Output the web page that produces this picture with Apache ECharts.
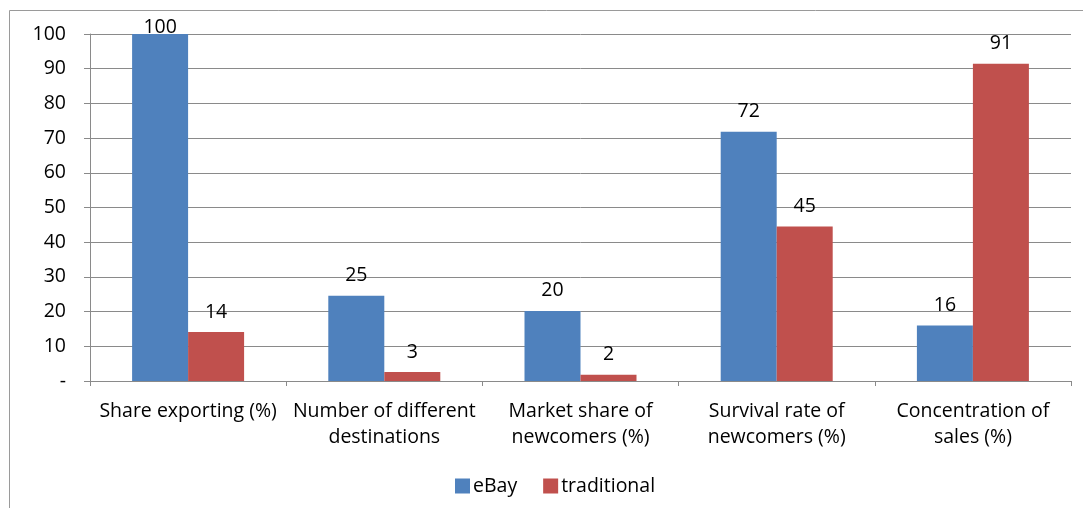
<!DOCTYPE html>
<html><head><meta charset="utf-8">
<script src="https://cdn.jsdelivr.net/npm/echarts@6/dist/echarts.min.js"></script>
<style>html,body{margin:0;padding:0;background:#fff}#c{width:1083px;height:508px}</style>
</head><body><div id="c"></div>
<script>
const categories = ["Share exporting (%)", "Number of different\ndestinations", "Market share of\nnewcomers (%)", "Survival rate of\nnewcomers (%)", "Concentration of\nsales (%)"];
const ebay = [100, 24.6, 20.2, 71.8, 16.0];
const traditional = [14.1, 2.6, 1.8, 44.5, 91.4];
const yTicks = [0, 10, 20, 30, 40, 50, 60, 70, 80, 90, 100];

const FONT = "'Open Sans', 'Liberation Sans', Arial, sans-serif";
const FS = 19.5;
const chart = echarts.init(document.getElementById('c'), null, {renderer: 'canvas'});
function lab(v){ return v >= 100 ? {value: v, label: {distance: -3}} : v; }
const labelStyle = {show: true, position: 'top', distance: 10, fontFamily: FONT, fontSize: FS, color: '#000', formatter: p => Math.round(p.value)};
chart.setOption({
  animation: false,
  textStyle: {fontFamily: FONT, color: '#000'},
  graphic: [{type: 'rect', shape: {x: 9.5, y: 10.5, width: 1100, height: 600}, style: {fill: 'none', stroke: '#9a9a9a', lineWidth: 1}, silent: true}],
  grid: {left: 90, right: 12, top: 34, bottom: 127, containLabel: false},
  legend: {top: 471, left: 450, itemWidth: 15, itemHeight: 15, itemGap: 26,
    textStyle: {fontFamily: FONT, fontSize: FS, color: '#000', padding: [0, 0, 0, -2]},
    data: [{name: 'eBay', icon: 'rect'}, {name: 'traditional', icon: 'rect'}]},
  xAxis: {type: 'category', data: categories,
    axisLine: {lineStyle: {color: '#8a8a8a', width: 1}},
    axisTick: {show: true, length: 5, lineStyle: {color: '#8a8a8a'}},
    axisLabel: {fontFamily: FONT, fontSize: FS, color: '#000', margin: 17, lineHeight: 26, interval: 0}},
  yAxis: {type: 'value', min: 0, max: 100, interval: 10,
    axisLine: {show: true, lineStyle: {color: '#8a8a8a', width: 1}},
    axisTick: {show: true, length: 6, lineStyle: {color: '#8a8a8a'}},
    splitLine: {lineStyle: {color: '#8a8a8a', width: 1}},
    axisLabel: {fontFamily: FONT, fontSize: FS, color: '#000', margin: 24,
      formatter: v => yTicks.includes(v) ? (v === 0 ? '-' : String(v)) : ''}},
  series: [
    {name: 'eBay', type: 'bar', data: ebay.map(lab), barWidth: 56, barGap: '0%',
      itemStyle: {color: '#4F81BD'}, label: labelStyle},
    {name: 'traditional', type: 'bar', data: traditional, barWidth: 56, barGap: '0%',
      itemStyle: {color: '#C0504D'}, label: labelStyle}
  ]
});
</script></body></html>
